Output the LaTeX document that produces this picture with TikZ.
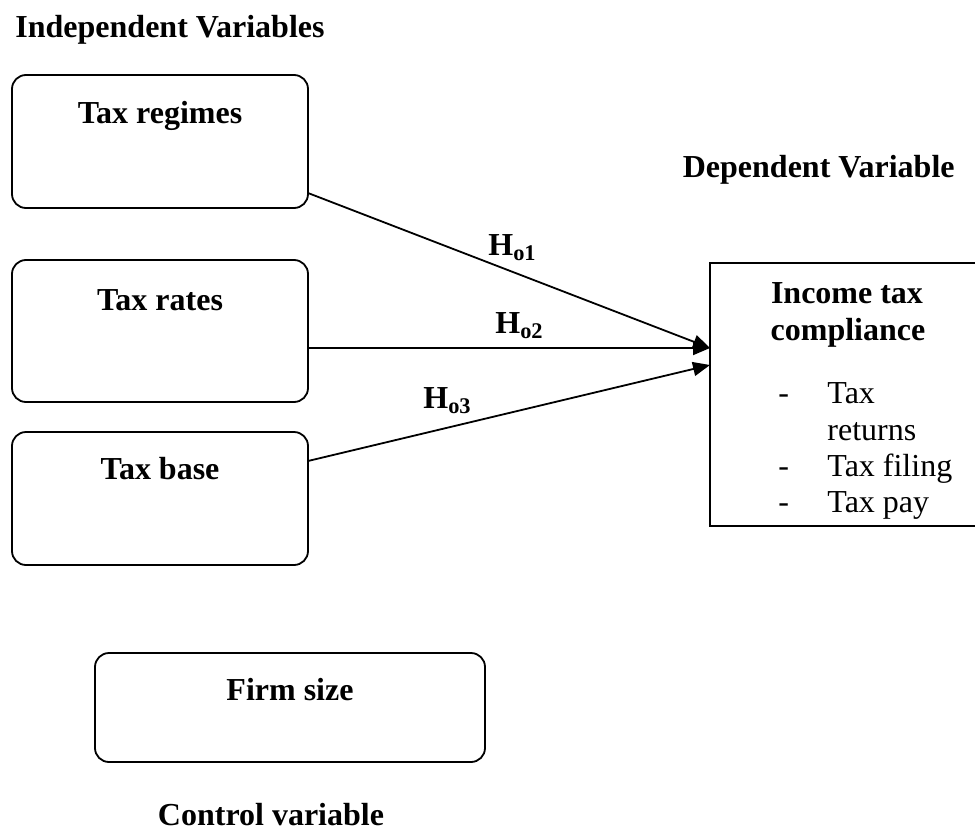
\documentclass[tikz,border=0pt]{standalone}
\usepackage{fontspec}
\setmainfont{Liberation Serif}
\usetikzlibrary{arrows.meta}
\usetikzlibrary{positioning}

\begin{document}
\begin{tikzpicture}[x=0.5pt, y=-0.5pt,
					var box/.style={draw, line width=0.9pt, rounded corners=7pt, inner sep=0pt, outer sep=0pt},
					var head/.style={font=\fontsize{16}{19}\selectfont\bfseries, inner sep=0pt, anchor=base},
					var item/.style={font=\fontsize{16}{19}\selectfont, inner sep=0pt, anchor=base west},
					hyp arrow/.style={-{Triangle[length=8.5pt, width=7pt]}, line width=0.9pt},
				]
					\useasboundingbox (0,0) rectangle (975,835);
					\clip (0,0) rectangle (975,835);
					
					% variable boxes
					\node[var box, minimum width=148pt, minimum height=66.5pt] (regimes) at (160,141.5) {};
					\node[var box, minimum width=148pt, minimum height=71pt] (rates) at (160,331) {};
					\node[var box, minimum width=148pt, minimum height=66.5pt] (base) at (160,498.5) {};
					\node[var box, minimum width=195pt, minimum height=54.5pt] (firm) at (290,707.5) {};
					\node[var box, rounded corners=0pt, minimum width=140pt, minimum height=131.5pt] (comply) at (850,394.5) {};
					
					% group labels
					\node[var head] (indep) at (170,38) {Independent Variables};
					\node[var head, anchor=base east] (dep) at (955,177) {Dependent Variable};
					\node[var head] (control) at (271,825) {Control variable};
					
					% box titles
					\node[var head] (regimes title) at (160,123) {Tax regimes};
					\node[var head] (rates title) at (160,310) {Tax rates};
					\node[var head] (base title) at (160,479) {Tax base};
					\node[var head] (firm title) at (290,700) {Firm size};
					\node[var head] (comply title a) at (847,303) {Income tax};
					\node[var head] (comply title b) at (848,340) {compliance};
					
					% measures of compliance
					\node[var item] (dash a) at (778,403) {-};
					\node[var item] (item a) at (827,403) {Tax};
					\node[var item] (item a2) at (827,440) {returns};
					\node[var item] (dash b) at (778,476) {-};
					\node[var item] (item b) at (827,476) {Tax filing};
					\node[var item] (dash c) at (778,512) {-};
					\node[var item] (item c) at (827,512) {Tax pay};
					
					% hypotheses
					\draw[hyp arrow] ([yshift=-25.75pt]regimes.east) -- ([yshift=23.25pt]comply.west);
					\draw[hyp arrow] ([yshift=-8.5pt]rates.east) -- ([yshift=23.25pt]comply.west);
					\draw[hyp arrow] ([yshift=18.75pt]base.east) -- ([yshift=14.75pt]comply.west);
					
					\node[var head, anchor=base west] (h1) at (488,255) {H\textsubscript{o1}};
					\node[var head, anchor=base west] (h2) at (495,333) {H\textsubscript{o2}};
					\node[var head, anchor=base west] (h3) at (423,408) {H\textsubscript{o3}};
				\end{tikzpicture}
\end{document}
